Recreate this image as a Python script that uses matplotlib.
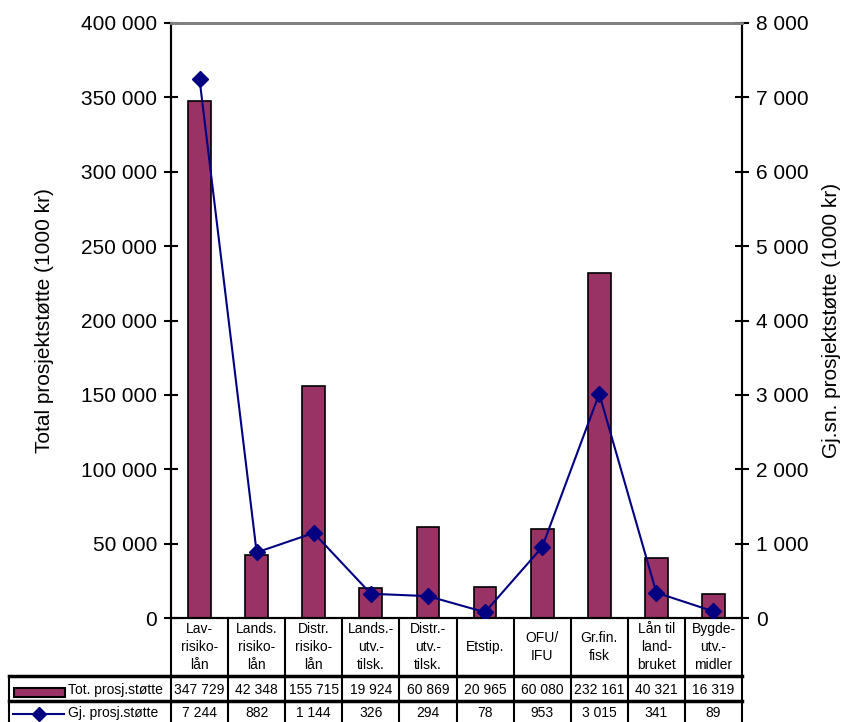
import matplotlib
matplotlib.use("Agg")
import matplotlib.pyplot as plt
from matplotlib.transforms import blended_transform_factory
from matplotlib.patches import Rectangle
from matplotlib.ticker import FuncFormatter, MultipleLocator

plt.rcParams['font.family'] = ['Liberation Sans', 'DejaVu Sans']

categories = ["Lav-\nrisiko-\nlån", "Lands.\nrisiko-\nlån", "Distr.\nrisiko-\nlån",
              "Lands.-\nutv.-\ntilsk.", "Distr.-\nutv.-\ntilsk.", "Etstip.",
              "OFU/\nIFU", "Gr.fin.\nfisk", "Lån til\nland-\nbruket", "Bygde-\nutv.-\nmidler"]
total = [347729, 42348, 155715, 19924, 60869, 20965, 60080, 232161, 40321, 16319]
avg = [7244, 882, 1144, 326, 294, 78, 953, 3015, 341, 89]
total_labels = ["347 729", "42 348", "155 715", "19 924", "60 869",
                "20 965", "60 080", "232 161", "40 321", "16 319"]
avg_labels = ["7 244", "882", "1 144", "326", "294", "78", "953", "3 015", "341", "89"]

BAR_COLOR = "#993366"
LINE_COLOR = "#000080"


def space_thousands(v, pos=None):
    return f"{v:,.0f}".replace(",", " ")


fig = plt.figure(figsize=(8.44, 7.22), dpi=100)
ax = fig.add_axes([171 / 844, 104 / 722, 571 / 844, 595 / 722])
ax2 = ax.twinx()

x = list(range(len(categories)))
ax.bar(x, total, width=0.4, color=BAR_COLOR, edgecolor="black", linewidth=1.2, zorder=2)
ax2.plot(x, avg, color=LINE_COLOR, linewidth=1.5, marker="D", markersize=8, zorder=3)

ax.set_xlim(-0.5, len(categories) - 0.5)
ax.set_ylim(0, 400000)
ax2.set_ylim(0, 8000)
ax.yaxis.set_major_locator(MultipleLocator(50000))
ax2.yaxis.set_major_locator(MultipleLocator(1000))
ax.yaxis.set_major_formatter(FuncFormatter(space_thousands))
ax2.yaxis.set_major_formatter(FuncFormatter(space_thousands))
ax.set_xticks([])

for a in (ax, ax2):
    a.tick_params(axis="y", direction="inout", length=10, width=1.5, labelsize=15, pad=5)
    a.spines["top"].set_color("#808080")
    a.spines["top"].set_linewidth(2)
    a.spines["left"].set_linewidth(1.5)
    a.spines["right"].set_linewidth(1.5)
    a.spines["bottom"].set_linewidth(1.5)

ax.set_ylabel("Total prosjektstøtte (1000 kr)", fontsize=15)
ax.yaxis.set_label_coords(-0.205, 0.5)
ax2.set_ylabel("Gj.sn. prosjektstøtte (1000 kr)", fontsize=15)
ax2.yaxis.set_label_coords(1.14, 0.5)

# data table under the plot
tr = blended_transform_factory(ax.transData, ax.transAxes)
h_head = -58 / 595
h_row1 = -83 / 595
h_bot = -104 / 595
x_left = -162 / 571
lkw = dict(color="black", linewidth=1.5, clip_on=False)

for k in range(len(categories) + 1):
    ax.plot([k - 0.5, k - 0.5], [0, h_bot], transform=tr, **lkw)
ax.plot([x_left, 1], [h_head, h_head], transform=ax.transAxes, color="black", linewidth=2.5, clip_on=False)
ax.plot([x_left, 1], [h_row1, h_row1], transform=ax.transAxes, color="black", linewidth=2.5, clip_on=False)
ax.plot([x_left, x_left], [h_head, h_bot], transform=ax.transAxes, **lkw)

y_row1 = -72 / 595
y_row2 = -95 / 595
for i, cat in enumerate(categories):
    ax.text(i, h_head / 2, cat, transform=tr, ha="center", va="center",
            fontsize=10, linespacing=1.35)
    ax.text(i, y_row1, total_labels[i], transform=tr, ha="center", va="center", fontsize=10)
    ax.text(i, y_row2, avg_labels[i], transform=tr, ha="center", va="center", fontsize=10)

# legend keys inside the table
ax.add_patch(Rectangle((-157 / 571, -79 / 595), 51 / 571, 9 / 595, transform=ax.transAxes,
                       facecolor=BAR_COLOR, edgecolor="black", linewidth=1.5, clip_on=False))
ax.text(-103 / 571, y_row1, "Tot. prosj.støtte", transform=ax.transAxes,
        ha="left", va="center", fontsize=10)
ax.plot([-158 / 571, -107 / 571], [-96 / 595, -96 / 595], transform=ax.transAxes,
        color=LINE_COLOR, linewidth=1.5, clip_on=False)
ax.plot([-132 / 571], [-96 / 595], transform=ax.transAxes, color=LINE_COLOR,
        marker="D", markersize=7, clip_on=False)
ax.text(-103 / 571, y_row2, "Gj. prosj.støtte", transform=ax.transAxes,
        ha="left", va="center", fontsize=10)

fig.savefig("out.png", dpi=100)
